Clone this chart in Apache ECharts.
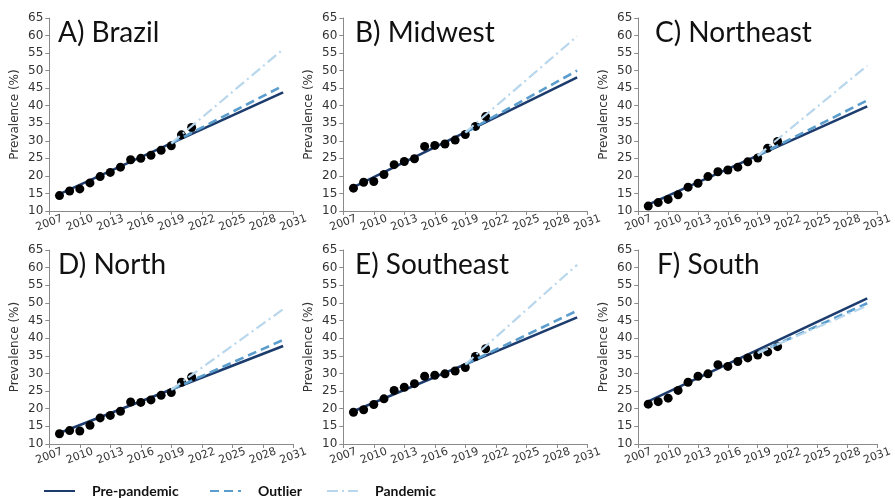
<!DOCTYPE html>
<html><head><meta charset="utf-8">
<script src="https://cdn.jsdelivr.net/npm/echarts@6/dist/echarts.min.js"></script>
<style>html,body{margin:0;padding:0;background:#fff}#c{width:895px;height:498px}</style>
</head><body><div id="c"></div>
<script>
// ---- data ----
const years = [2008,2009,2010,2011,2012,2013,2014,2015,2016,2017,2018,2019,2020,2021];
const regionTitles = ['A) Brazil','B) Midwest','C) Northeast','D) North','E) Southeast','F) South'];
const brazil    = [14.4,15.7,16.3,18.0,19.8,21.0,22.5,24.6,25.0,25.9,27.3,28.6,31.7,33.8];
const midwest   = [16.5,18.2,18.4,20.4,23.2,24.1,24.9,28.4,28.7,29.1,30.2,31.8,34.1,36.9];
const northeast = [11.4,12.4,13.3,14.6,16.8,17.9,19.8,21.2,21.7,22.5,24.0,25.1,27.9,29.8];
const north     = [12.9,13.8,13.7,15.3,17.4,18.1,19.3,21.9,21.8,22.5,23.8,24.6,27.5,29.0];
const southeast = [19.0,19.7,21.2,22.8,25.2,26.1,27.1,29.2,29.5,29.9,30.7,31.7,34.8,37.0];
const south     = [21.3,22.0,23.0,25.2,27.5,29.2,29.9,32.5,32.0,33.4,34.4,35.2,36.1,37.6];
const prevalence = [brazil, midwest, northeast, north, southeast, south];

// trend lines: start / end values (by region, same order as regionTitles)
const preYears = [2008, 2030];
const projYears = [2019, 2030];
const prePandemicStart = [14.8, 16.8, 11.8, 13.1, 19.3, 22.1];
const prePandemicEnd   = [43.8, 48.1, 39.8, 37.8, 45.9, 51.3];
const outlierStart     = [29.3, 32.4, 25.8, 25.4, 32.6, 35.8];
const outlierEnd       = [45.7, 50.0, 41.5, 39.5, 47.8, 49.9];
const pandemicStart    = [29.3, 32.4, 25.8, 25.4, 32.6, 35.8];
const pandemicEnd      = [56.1, 59.8, 51.4, 48.2, 60.8, 49.2];

const xTickMin = 2007, xTickMax = 2031, xTickStep = 3;
const yTickMin = 10, yTickMax = 65, yTickStep = 5;

// ---- layout ----
const colLeft = [49.3, 343.3, 638.3];
const rowTop = [18, 250];
const rowHeight = [193, 194];
const gridWidth = 244;
const titleLeft = [53, 350, 650, 53, 350, 652];

const NAVY = '#1d3c6e', MID = '#5b9dcc', LIGHT = '#b9d7ec';
const axisColor = '#8a8a8a', labelColor = '#333';

const grids = [], xAxes = [], yAxes = [], series = [], titles = [];
regionTitles.forEach((t, i) => {
  const c = i % 3, r = Math.floor(i / 3);
  grids.push({left: colLeft[c], top: rowTop[r], width: gridWidth, height: rowHeight[r]});
  xAxes.push({
    type: 'value', gridIndex: i, min: xTickMin, max: xTickMax, interval: xTickStep,
    splitLine: {show: false},
    axisLine: {show: true, lineStyle: {color: axisColor, width: 1}},
    axisTick: {show: true, length: 4, lineStyle: {color: axisColor}},
    axisLabel: {rotate: 20, align: 'center', verticalAlign: 'middle', margin: 12, hideOverlap: false,
      fontSize: 11, fontFamily: 'DejaVu Sans', color: labelColor, formatter: v => String(v), showMinLabel: true, showMaxLabel: true}
  });
  yAxes.push({
    type: 'value', gridIndex: i, min: yTickMin, max: yTickMax, interval: yTickStep,
    name: 'Prevalence (%)', nameLocation: 'middle', nameGap: 28,
    nameTextStyle: {fontSize: 12, fontFamily: 'DejaVu Sans', color: labelColor},
    splitLine: {show: false},
    axisLine: {show: true, lineStyle: {color: axisColor, width: 1}},
    axisTick: {show: true, length: 4, lineStyle: {color: axisColor}},
    axisLabel: {fontSize: 12, fontFamily: 'DejaVu Sans', color: labelColor, margin: 6}
  });
  titles.push({text: t, left: titleLeft[i], top: rowTop[r] - 4,
    textStyle: {fontFamily: 'Lato', fontWeight: 'normal', fontSize: 28, color: '#111'}});
  series.push({
    name: 'Pre-pandemic', type: 'line', xAxisIndex: i, yAxisIndex: i, symbol: 'none', z: 2,
    data: [[preYears[0], prePandemicStart[i]], [preYears[1], prePandemicEnd[i]]],
    lineStyle: {color: NAVY, width: 2.6}, itemStyle: {color: NAVY}
  });
  series.push({
    name: 'points', type: 'scatter', xAxisIndex: i, yAxisIndex: i, z: 3,
    symbolSize: 9, itemStyle: {color: '#000', opacity: 1},
    data: years.map((y, k) => [y, prevalence[i][k]])
  });
  series.push({
    name: 'Outlier', type: 'line', xAxisIndex: i, yAxisIndex: i, symbol: 'none', z: 4,
    data: [[projYears[0], outlierStart[i]], [projYears[1], outlierEnd[i]]],
    lineStyle: {color: MID, width: 2.6, type: [9, 5]}, itemStyle: {color: MID}
  });
  series.push({
    name: 'Pandemic', type: 'line', xAxisIndex: i, yAxisIndex: i, symbol: 'none', z: 5,
    data: [[projYears[0], pandemicStart[i]], [projYears[1], pandemicEnd[i]]],
    lineStyle: {color: LIGHT, width: 2.2, type: [11, 4, 2, 4]}, itemStyle: {color: LIGHT}
  });
});

const legendText = {fontFamily: 'Lato', fontWeight: 'bold', fontSize: 14, color: '#111', padding: [0, 0, 0, 12]};
const mkLegend = (name, left) => ({
  data: [name], left: left, top: 479, itemWidth: 31, itemHeight: 14,
  itemStyle: {opacity: 0},
  textStyle: legendText, selectedMode: false
});

const chart = echarts.init(document.getElementById('c'), null, {renderer: 'canvas'});
chart.setOption({
  animation: false,
  backgroundColor: '#fff',
  title: titles,
  grid: grids, xAxis: xAxes, yAxis: yAxes, series: series,
  legend: [mkLegend('Pre-pandemic', 38), mkLegend('Outlier', 204), mkLegend('Pandemic', 321)]
});
</script></body></html>
